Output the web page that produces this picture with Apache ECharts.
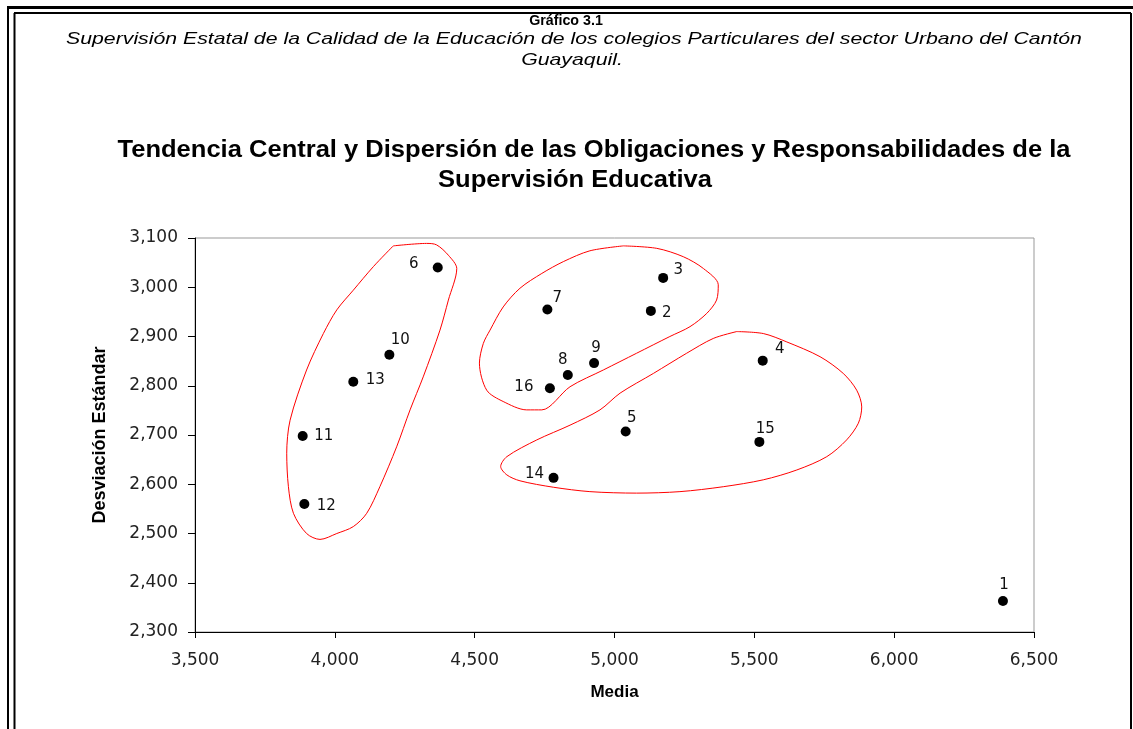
<!DOCTYPE html>
<html>
<head>
<meta charset="utf-8">
<style>
  html, body { margin: 0; padding: 0; background: #fff; }
  #chart { width: 1133px; height: 729px; }
</style>
<script src="https://cdn.jsdelivr.net/npm/echarts@6/dist/echarts.min.js"></script>
</head>
<body>
<div id="chart"></div>
<script>
// colegios (número), media y desviación estándar
const ids = ['1', '2', '3', '4', '5', '6', '7', '8', '9', '10', '11', '12', '13', '14', '15', '16']
const media = [6389, 5130, 5174, 5530, 5040, 4368, 4760, 4833, 4927, 4195, 3885, 3891, 4066, 4782, 5518, 4769]
const desviacion = [2363, 2952, 3019, 2851, 2707, 3040, 2955, 2822, 2846, 2863, 2698, 2560, 2808, 2613, 2686, 2795]

const xTicks = [3500, 4000, 4500, 5000, 5500, 6000, 6500]
const yTicks = [2300, 2400, 2500, 2600, 2700, 2800, 2900, 3000, 3100]

// contornos rojos dibujados a mano (en unidades de los ejes)
const grupoIzq = [
  [4209, 3084], [4328, 3089], [4364, 3086], [4406, 3065], [4436, 3038], [4406, 2974],
  [4376, 2913], [4316, 2818], [4269, 2751], [4221, 2676], [4161, 2595], [4114, 2541],
  [4066, 2514], [4007, 2500], [3947, 2488], [3899, 2500], [3852, 2541], [3834, 2595],
  [3828, 2663], [3840, 2730], [3899, 2832], [3959, 2906], [4007, 2954], [4066, 2994],
  [4138, 3042], [4209, 3084]
]
const grupoSup = [
  [5032, 3084], [5151, 3079], [5246, 3062], [5318, 3038], [5371, 3005], [5365, 2974],
  [5330, 2947], [5270, 2920], [5198, 2900], [5079, 2866], [4960, 2832], [4841, 2798],
  [4740, 2751], [4686, 2751], [4602, 2768], [4543, 2791], [4517, 2846], [4531, 2886],
  [4555, 2913], [4602, 2960], [4662, 2998], [4740, 3028], [4817, 3052], [4912, 3074],
  [5032, 3084]
]
const grupoInf = [
  [5437, 2910], [5532, 2906], [5616, 2889], [5735, 2859], [5818, 2825], [5866, 2791],
  [5884, 2757], [5872, 2724], [5830, 2690], [5759, 2656], [5652, 2629], [5532, 2609],
  [5389, 2595], [5234, 2585], [5079, 2582], [4912, 2585], [4781, 2594], [4662, 2607],
  [4615, 2619], [4593, 2636], [4615, 2656], [4722, 2690], [4841, 2720], [4948, 2751],
  [5020, 2785], [5139, 2825], [5258, 2866], [5353, 2896], [5437, 2910]
]

// desplazamiento de cada etiqueta respecto a su punto (px)
const labelOffset = {
  '1': [1, -16], '2': [16, 2], '3': [15, -8], '4': [17, -12], '5': [6, -13], '6': [-24, -3],
  '7': [10, -11], '8': [-5, -15], '9': [2, -15], '10': [11, -15], '11': [21, 0], '12': [22, 2],
  '13': [22, -2], '14': [-19, -4], '15': [6, -13], '16': [-26, -1]
}

const fmt = v => String(v).replace(/\B(?=(\d{3})+(?!\d))/g, ',')
const tickFont = { fontFamily: 'DejaVu Sans', fontSize: 17, color: '#222' }

const chart = echarts.init(document.getElementById('chart'))

const outline = data => ({
  type: 'line',
  data: data,
  smooth: 0.3,
  symbol: 'none',
  silent: true,
  z: 1,
  lineStyle: { color: '#ff0000', width: 1 }
})

// texto centrado en x, estirado a lo ancho como en el original
const centerText = (text, x, y, font, sx) => ({
  type: 'text', x: x, y: y, scaleX: sx,
  style: { text: text, font: font, fill: '#000', align: 'center', verticalAlign: 'middle' }
})

chart.setOption({
  animation: false,
  backgroundColor: '#fff',
  textStyle: { fontFamily: 'Liberation Sans' },
  graphic: [
    { type: 'line', shape: { x1: 7, y1: 7.5, x2: 1133, y2: 7.5 }, style: { stroke: '#000', lineWidth: 3 } },
    { type: 'line', shape: { x1: 8, y1: 7, x2: 8, y2: 729 }, style: { stroke: '#000', lineWidth: 2 } },
    { type: 'line', shape: { x1: 14, y1: 13, x2: 1131, y2: 13 }, style: { stroke: '#000', lineWidth: 2 } },
    { type: 'line', shape: { x1: 14.5, y1: 13, x2: 14.5, y2: 729 }, style: { stroke: '#000', lineWidth: 2 } },
    { type: 'line', shape: { x1: 1131, y1: 13, x2: 1131, y2: 729 }, style: { stroke: '#000', lineWidth: 2 } },
    centerText('Gráfico 3.1', 566, 21, 'bold 15px Liberation Sans', 0.95),
    centerText('Supervisión Estatal de la Calidad de la Educación de los colegios Particulares del sector Urbano del Cantón', 574, 39, 'italic 17px Liberation Sans', 1.25),
    centerText('Guayaquil.', 572, 60, 'italic 17px Liberation Sans', 1.25),
    centerText('Tendencia Central y Dispersión de las Obligaciones y Responsabilidades de la', 594, 151, 'bold 23px Liberation Sans', 1.11),
    centerText('Supervisión Educativa', 575, 181, 'bold 23px Liberation Sans', 1.11)
  ],
  grid: {
    left: 195, right: 99, top: 238, bottom: 97,
    show: true, borderColor: '#999', borderWidth: 1
  },
  xAxis: {
    type: 'value',
    min: xTicks[0], max: xTicks[xTicks.length - 1], interval: 500,
    name: 'Media', nameLocation: 'middle', nameGap: 52,
    nameTextStyle: { fontFamily: 'Liberation Sans', fontWeight: 'bold', fontSize: 17, color: '#000' },
    axisLine: { show: true, lineStyle: { color: '#000', width: 1 } },
    axisTick: { show: true, length: 6, lineStyle: { color: '#000' } },
    axisLabel: Object.assign({ margin: 20, formatter: fmt }, tickFont),
    splitLine: { show: false }
  },
  yAxis: {
    type: 'value',
    min: yTicks[0], max: yTicks[yTicks.length - 1], interval: 100,
    name: 'Desviación Estándar', nameLocation: 'middle', nameGap: 86,
    nameTextStyle: { fontFamily: 'Liberation Sans', fontWeight: 'bold', fontSize: 18, color: '#000' },
    axisLine: { show: true, lineStyle: { color: '#000', width: 1 } },
    axisTick: { show: true, length: 7, lineStyle: { color: '#000' } },
    axisLabel: Object.assign({ margin: 17, formatter: fmt }, tickFont),
    splitLine: { show: false }
  },
  series: [
    outline(grupoIzq),
    outline(grupoSup),
    outline(grupoInf),
    {
      type: 'scatter',
      z: 3,
      symbol: 'circle',
      symbolSize: 10,
      itemStyle: { color: '#000', opacity: 1 },
      data: ids.map((id, i) => ({
        name: id,
        value: [media[i], desviacion[i]],
        label: { offset: labelOffset[id] }
      })),
      label: {
        show: true,
        position: 'inside',
        formatter: '{b}',
        fontFamily: 'DejaVu Sans',
        fontSize: 15,
        color: '#111'
      }
    }
  ]
})
</script>
</body>
</html>
